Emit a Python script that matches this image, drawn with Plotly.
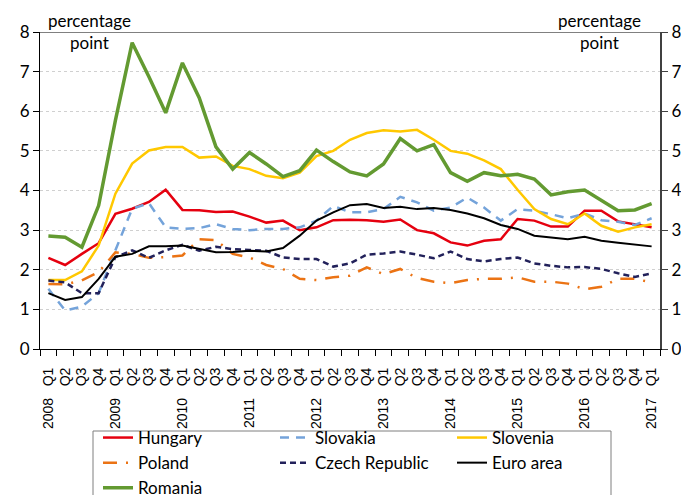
import plotly.graph_objects as go

YEARS = [2008, 2009, 2010, 2011, 2012, 2013, 2014, 2015, 2016, 2017]
QUARTERS = ["Q1", "Q2", "Q3", "Q4"]

hungary = [2.30, 2.12, 2.40, 2.67, 3.41, 3.54, 3.71, 4.02, 3.51, 3.50, 3.46, 3.47, 3.34, 3.19, 3.24, 3.00,
           3.07, 3.25, 3.26, 3.25, 3.21, 3.27, 3.00, 2.92, 2.69, 2.61, 2.73, 2.77, 3.28, 3.24, 3.09, 3.09,
           3.49, 3.49, 3.22, 3.15, 3.07]
slovakia = [1.52, 0.97, 1.07, 1.41, 2.49, 3.54, 3.68, 3.07, 3.03, 3.05, 3.15, 3.03, 3.00, 3.03, 3.03, 3.07,
            3.24, 3.61, 3.45, 3.45, 3.53, 3.84, 3.70, 3.49, 3.57, 3.82, 3.57, 3.24, 3.53, 3.49, 3.40, 3.30,
            3.42, 3.25, 3.21, 3.13, 3.30]
slovenia = [1.74, 1.74, 1.96, 2.61, 3.92, 4.68, 5.01, 5.10, 5.10, 4.83, 4.86, 4.62, 4.54, 4.37, 4.31, 4.45,
            4.87, 5.00, 5.28, 5.45, 5.52, 5.49, 5.53, 5.28, 5.00, 4.93, 4.76, 4.54, 4.02, 3.53, 3.28, 3.15,
            3.42, 3.11, 2.96, 3.07, 3.15]
poland = [1.64, 1.63, 1.73, 1.94, 2.44, 2.40, 2.30, 2.32, 2.36, 2.77, 2.75, 2.40, 2.31, 2.12, 2.02, 1.77,
          1.74, 1.81, 1.85, 2.06, 1.89, 2.02, 1.79, 1.70, 1.66, 1.74, 1.77, 1.77, 1.81, 1.70, 1.70, 1.65,
          1.51, 1.57, 1.77, 1.77, 1.68]
czech = [1.73, 1.68, 1.41, 1.41, 2.32, 2.49, 2.30, 2.49, 2.63, 2.48, 2.58, 2.52, 2.50, 2.48, 2.31, 2.27,
         2.27, 2.08, 2.16, 2.38, 2.41, 2.46, 2.38, 2.29, 2.46, 2.27, 2.21, 2.27, 2.31, 2.16, 2.10, 2.06,
         2.07, 2.02, 1.91, 1.82, 1.91]
euro_area = [1.41, 1.24, 1.31, 1.77, 2.33, 2.40, 2.59, 2.59, 2.61, 2.52, 2.44, 2.45, 2.48, 2.46, 2.55, 2.86,
             3.24, 3.45, 3.63, 3.66, 3.56, 3.59, 3.53, 3.56, 3.51, 3.42, 3.30, 3.13, 3.03, 2.86, 2.81, 2.77,
             2.83, 2.73, 2.68, 2.63, 2.59]
romania = [2.85, 2.82, 2.57, 3.62, 5.77, 7.73, 6.87, 5.96, 7.22, 6.34, 5.10, 4.54, 4.96, 4.67, 4.35, 4.50,
           5.02, 4.73, 4.47, 4.37, 4.67, 5.31, 5.00, 5.16, 4.45, 4.23, 4.45, 4.37, 4.41, 4.29, 3.89, 3.97,
           4.01, 3.74, 3.49, 3.51, 3.67]

Y_TICKS = [0, 1, 2, 3, 4, 5, 6, 7, 8]

n = len(hungary)
x = list(range(n))
tick_labels = []
for i in range(n):
    yr = YEARS[i // 4]
    q = QUARTERS[i % 4]
    tick_labels.append(f"{yr}\u00a0\u00a0\u00a0{q}" if q == "Q1" else q)

FONT = "Lato, Carlito, Calibri, sans-serif"

series = [
    ("Hungary", hungary, dict(color="#e5000f", width=2.5)),
    ("Slovakia", slovakia, dict(color="#74a3da", width=2.5, dash="9px,7px")),
    ("Slovenia", slovenia, dict(color="#ffc800", width=2.5)),
    ("Poland", poland, dict(color="#eb7314", width=2.5, dash="14px,9px,2px,9px")),
    ("Czech Republic", czech, dict(color="#22215a", width=2.5, dash="6px,4px")),
    ("Euro area", euro_area, dict(color="#000000", width=2)),
    ("Romania", romania, dict(color="#639a31", width=3.5)),
]

fig = go.Figure()
for name, vals, line in series:
    fig.add_trace(go.Scatter(x=x, y=vals, name=name, mode="lines", line=line))

# invisible trace to carry the right-hand axis
fig.add_trace(go.Scatter(x=x, y=euro_area, yaxis="y2", mode="lines", line=dict(width=0, color="#000000"),
                         showlegend=False, hoverinfo="skip", opacity=0))

# plot area in screen pixels (page has an 8px body offset)
PL, PT, PW, PH = 32, 24, 620, 317


def px_x(sx):
    return (sx - 40) / PW


def px_y(sy):
    return (349 - sy) / PH


fig.update_layout(
    width=689, height=495,
    margin=dict(l=PL, r=689 - PL - PW, t=PT, b=495 - PT - PH, autoexpand=False),
    paper_bgcolor="white", plot_bgcolor="white",
    font=dict(family=FONT, size=17, color="#000000"),
    showlegend=True,
    legend=dict(
        orientation="h", x=px_x(98), xanchor="left", y=px_y(420), yanchor="top",
        borderwidth=0, bgcolor="rgba(0,0,0,0)",
        font=dict(family=FONT, size=17, color="#000000"), entrywidth=132, entrywidthmode="pixels",
        traceorder="normal", tracegroupgap=0,
    ),
    xaxis=dict(
        range=[-0.5, n - 0.5], tickmode="array", tickvals=x, ticktext=tick_labels,
        tickangle=-90, ticks="outside", ticklen=12, tickcolor="rgba(0,0,0,0)", automargin=False,
        tickfont=dict(family="Liberation Sans, Arial, sans-serif", size=14, color="#000000"),
        showline=True, linecolor="#000000", linewidth=1, showgrid=False, zeroline=False,
        minor=dict(tickmode="array", tickvals=[i - 0.5 for i in range(n + 1)], ticks="outside",
                   ticklen=6, tickcolor="#000000", tickwidth=1, showgrid=False),
    ),
    yaxis=dict(
        range=[0, 8], tickmode="array", tickvals=Y_TICKS, ticks="outside", ticklen=6,
        tickcolor="#000000", showline=True, linecolor="#000000", linewidth=1, automargin=False,
        showgrid=True, gridcolor="#d0d0d0", griddash="dot", gridwidth=1, zeroline=False,
        tickfont=dict(family=FONT, size=17, color="#000000"),
    ),
    yaxis2=dict(
        range=[0, 8], overlaying="y", side="right", tickmode="array", tickvals=Y_TICKS,
        ticks="outside", ticklen=6, tickcolor="#404040", showline=True, linecolor="#404040",
        linewidth=2, showgrid=False, zeroline=False, automargin=False,
        tickfont=dict(family=FONT, size=17, color="#000000"),
    ),
    shapes=[
        dict(type="line", xref="paper", x0=0, x1=1, yref="y", y0=8, y1=8,
             line=dict(color="#808080", width=2), layer="above"),
        dict(type="rect", xref="paper", yref="paper", x0=px_x(93), x1=px_x(611),
             y0=px_y(431), y1=px_y(520), line=dict(color="#7f7f7f", width=1),
             fillcolor="rgba(0,0,0,0)", layer="below"),
    ],
    annotations=[
        dict(text="percentage<br>point", xref="paper", yref="paper", x=px_x(89),
             y=px_y(31.5), xanchor="center", yanchor="middle", showarrow=False,
             align="center", font=dict(family=FONT, size=17, color="#000000")),
        dict(text="percentage<br>point", xref="paper", yref="paper", x=px_x(599),
             y=px_y(31.5), xanchor="center", yanchor="middle", showarrow=False,
             align="center", font=dict(family=FONT, size=17, color="#000000")),
    ],
)

fig.write_html("out.html")
